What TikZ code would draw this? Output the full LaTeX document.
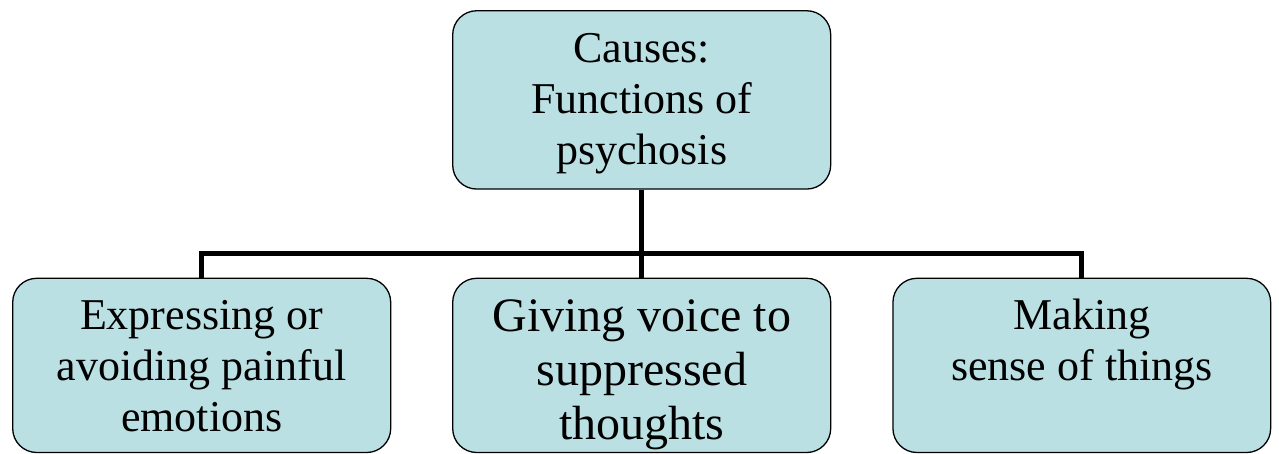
\documentclass[tikz,border=0pt]{standalone}
\usepackage{fontspec}
\setmainfont{Liberation Serif}
\definecolor{boxfill}{RGB}{187,224,227}
\begin{document}
\begin{tikzpicture}[x=1pt,y=1pt,
  box/.style={draw=black, line width=1.3pt, fill=boxfill, rounded corners=24pt,
    inner sep=0pt, minimum width=378pt},
  boxtext/.style={align=center, inner sep=0pt, anchor=north,
    font=\fontsize{44}{51}\selectfont},
  conn/.style={line width=5pt, line join=miter}]
\useasboundingbox (0,0) rectangle (1279,-454);

% boxes
\node[box, minimum height=178.3pt] (top) at (641.7,-99.9) {};
\node[box, minimum height=174.2pt] (b1) at (201.7,-365.4) {};
\node[box, minimum height=174.2pt] (b2) at (641.7,-365.4) {};
\node[box, minimum height=174.2pt, minimum width=377.7pt] (b3) at (1081.8,-365.4) {};

% texts, top-aligned in their boxes
\node[boxtext] (ttop) at ([yshift=-12pt]top.north) {\rule{0pt}{40pt}Causes:\\Functions of\\psychosis};
\node[boxtext] (t1) at ([yshift=-12pt]b1.north) {\rule{0pt}{40pt}Expressing or\\avoiding painful\\emotions};
\node[boxtext, font=\fontsize{48}{54}\selectfont] (t2) at ([yshift=-13.7pt]b2.north)
  {\rule{0pt}{40pt}Giving voice to\\suppressed\\thoughts};
\node[boxtext] (t3) at ([yshift=-12pt]b3.north) {\rule{0pt}{40pt}Making\\sense of things};

% connectors
\coordinate (bus) at (641.7,-254);
\draw[conn] (top.south) -- (b2.north);
\draw[conn] (b1.north) -- (b1.north |- bus) -- (b3.north |- bus) -- (b3.north);
\end{tikzpicture}
\end{document}
